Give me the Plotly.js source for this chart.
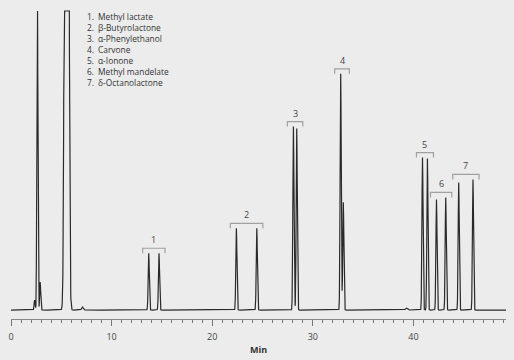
<!DOCTYPE html>
<html><head><meta charset="utf-8">
<script src="https://cdn.plot.ly/plotly-3.0.1.min.js"></script>
<style>html,body{margin:0;padding:0;background:#ececec}#c{width:514px;height:360px}</style>
</head><body><div id="c"></div>
<script>
// Compound legend
const compoundNames = ["Methyl lactate","β-Butyrolactone","α-Phenylethanol","Carvone","α-Ionone","Methyl mandelate","δ-Octanolactone"];
// Labelled peak pairs (retention time, min; response, arbitrary units)
const pairLabel   = [1, 1, 2, 2, 3, 3, 4, 4, 5, 5, 6, 6, 7, 7];
const pairRT      = [13.69, 14.71, 22.40, 24.43, 28.07, 28.40, 32.77, 33.03, 40.90, 41.39, 42.29, 43.21, 44.50, 45.92];
const pairHeight  = [57, 57, 82, 82, 184, 182, 237, 108, 153, 152, 111, 113, 128, 131];
// Unlabelled peaks (solvent front etc.)
const otherRT     = [2.35, 2.62, 2.90, 5.53, 7.10, 39.30];
const otherHeight = [10, 330, 28, 3000, 3, 2];
const otherWidth  = [0.05, 0.05, 0.05, 0.126, 0.08, 0.1];
const SATURATION = 300;
const PEAK_SIGMA = 0.055;
const RUN_END = 49.2;

const t = [], s = [];
const allRT = pairRT.concat(otherRT);
const allH = pairHeight.concat(otherHeight);
const allW = pairRT.map(() => PEAK_SIGMA).concat(otherWidth);
for (let i = 0; i <= Math.round(RUN_END * 100); i++) {
  const x = i / 100;
  let y = 0;
  for (let k = 0; k < allRT.length; k++) {
    const d = (x - allRT[k]) / allW[k];
    if (Math.abs(d) < 8) y += allH[k] * Math.exp(-0.5 * d * d);
  }
  t.push(x); s.push(Math.min(y, SATURATION));
}

const shapes = [], annotations = [];
for (let g = 1; g <= 7; g++) {
  const idx = pairLabel.map((l, i) => l === g ? i : -1).filter(i => i >= 0);
  const xs = idx.map(i => pairRT[i]), hs = idx.map(i => pairHeight[i]);
  const x0 = Math.min(...xs) - 0.6, x1 = Math.max(...xs) + 0.6;
  const yb = Math.max(...hs) + 5;
  shapes.push({type: 'path', xref: 'x', yref: 'y',
    path: `M${x0},${yb - 5} L${x0},${yb} L${x1},${yb} L${x1},${yb - 5}`,
    line: {color: '#a0a0a0', width: 1.2}});
  annotations.push({x: (x0 + x1) / 2, y: yb, xref: 'x', yref: 'y', text: String(g),
    showarrow: false, yanchor: 'bottom', yshift: 0,
    font: {family: 'Open Sans', size: 9, color: '#444444'}});
}
annotations.push({xref: 'paper', yref: 'paper', x: 0.1495, y: 0.8706,
  xanchor: 'left', yanchor: 'middle', align: 'left', showarrow: false,
  text: compoundNames.map((n, i) => (i + 1) + '.').join('<br>'),
  font: {family: 'Open Sans', size: 8.4, color: '#333'}});
annotations.push({xref: 'paper', yref: 'paper', x: 0.1717, y: 0.8706,
  xanchor: 'left', yanchor: 'middle', align: 'left', showarrow: false,
  text: compoundNames.join('<br>'),
  font: {family: 'Open Sans', size: 8.4, color: '#333'}});

Plotly.newPlot('c', [{x: t, y: s, type: 'scatter', mode: 'lines',
  line: {color: '#2a2a2a', width: 1.2}, hoverinfo: 'skip'}], {
  width: 514, height: 360,
  margin: {l: 11, r: 8, t: 10, b: 41},
  paper_bgcolor: '#ececec', plot_bgcolor: '#ececec',
  showlegend: false,
  xaxis: {range: [0, RUN_END], dtick: 10, tick0: 0, ticks: 'outside', ticklen: 6,
    tickcolor: '#777', showline: true, linecolor: '#888', linewidth: 1,
    showgrid: false, zeroline: false, automargin: false, ticklabelstandoff: 3,
    minor: {dtick: 1, ticks: 'outside', ticklen: 3, tickcolor: '#777', showgrid: false},
    tickfont: {family: 'Open Sans', size: 9, color: '#444'},
    title: {text: '<b>Min</b>', font: {family: 'Open Sans', size: 9, color: '#333'}, standoff: 4}},
  yaxis: {range: [-9, 301], visible: false, showgrid: false, zeroline: false},
  shapes: shapes, annotations: annotations
}, {staticPlot: true});
</script></body></html>
